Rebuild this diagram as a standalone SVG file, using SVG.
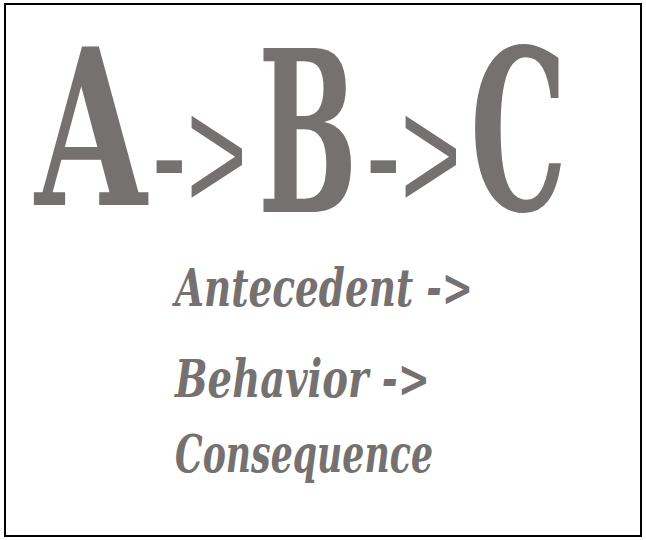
<svg xmlns="http://www.w3.org/2000/svg" width="646" height="540" viewBox="0 0 646 540">
<style>
.big{font-family:"DejaVu Serif",serif;font-weight:bold;fill:#757170}
.arr{font-family:"Liberation Sans",Arial,sans-serif;fill:#757170;font-size:162px}
.line{font-family:"DejaVu Serif",serif;font-weight:bold;font-style:italic;fill:#757170;font-size:52px}
</style>
<rect x="5" y="4" width="636" height="532" fill="#fff" stroke="#000" stroke-width="2"/>
<g id="title">
<text class="big" transform="translate(35,205) scale(0.664,1)" x="0" y="0" font-size="217">A</text>
<text class="arr" transform="translate(152,210) scale(0.64,1)" x="0" y="0">-&gt;</text>
<text class="big" transform="translate(258,212) scale(0.523,1)" x="0" y="0" font-size="225">B</text>
<text class="arr" transform="translate(366,210) scale(0.64,1)" x="0" y="0">-&gt;</text>
<text class="big" transform="translate(470,210) scale(0.547,1)" x="0" y="0" font-size="223">C</text>
</g>
<g id="lines">
<text class="line" x="175" y="306" textLength="298" lengthAdjust="spacingAndGlyphs">Antecedent -&gt;</text>
<text class="line" x="175" y="397" textLength="255" lengthAdjust="spacingAndGlyphs">Behavior -&gt;</text>
<text class="line" x="175" y="472" textLength="258" lengthAdjust="spacingAndGlyphs">Consequence</text>
</g>
</svg>
